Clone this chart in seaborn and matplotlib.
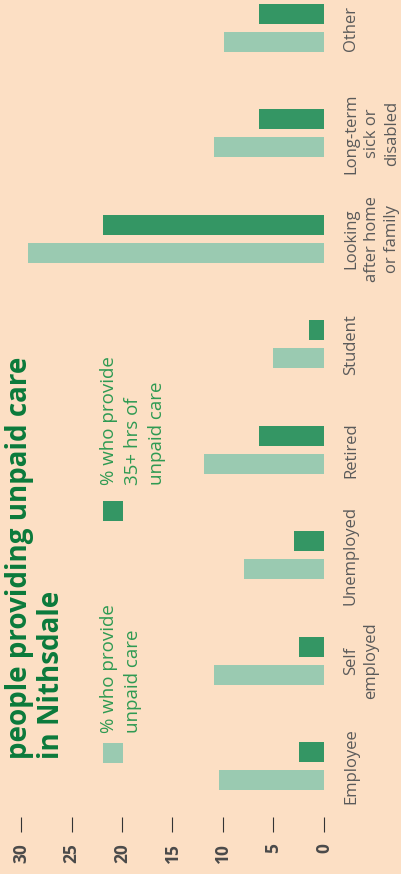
import pandas as pd
import matplotlib.pyplot as plt
import matplotlib.transforms as mtransforms
from matplotlib.patches import Rectangle
import seaborn as sns

# values (percent)
categories = ["Employee", "Self\nemployed", "Unemployed", "Retired", "Student",
              "Looking\nafter home\nor family", "Long-term\nsick or\ndisabled", "Other"]
unpaid_care = [10.4, 10.9, 7.9, 11.9, 5.0, 29.3, 10.9, 9.9]
unpaid_care_35 = [2.5, 2.5, 3.0, 6.4, 1.5, 21.9, 6.4, 6.4]
series_names = ["% who provide\nunpaid care", "% who provide\n35+ hrs of\nunpaid care"]
value_ticks = [0, 5, 10, 15, 20, 25, 30]

BG = "#FCDFC4"
LIGHT = "#9ACAB1"
DARK = "#349664"
TITLE_C = "#0B7A3B"
LEGEND_C = "#2E9A52"
LABEL_C = "#5A5A5A"

sns.set_theme(style="white")
plt.rcParams["font.family"] = ["Open Sans", "DejaVu Sans"]

df = pd.DataFrame({
    "category": categories * 2,
    "value": unpaid_care + unpaid_care_35,
    "series": [series_names[0]] * len(categories) + [series_names[1]] * len(categories),
})

W, H = 402, 874
fig = plt.figure(figsize=(W / 100, H / 100), dpi=100, facecolor=BG)
ax = fig.add_axes([21 / W, 57 / H, 303 / W, 817 / H], facecolor=BG)

# categories listed top to bottom: Other ... Employee
order = categories[::-1]
sns.barplot(data=df, y="category", x="value", hue="series", order=order,
            hue_order=[series_names[1], series_names[0]],
            palette={series_names[0]: LIGHT, series_names[1]: DARK},
            width=0.531, gap=0.286, saturation=1, linewidth=0,
            legend=False, ax=ax, orient="h")

ax.set_xlim(30, 0)
ax.set_ylim(7.484, -0.266)
for s in ax.spines.values():
    s.set_visible(False)
ax.set_ylabel("")
ax.set_xlabel("")
ax.set_yticks([])
ax.set_xticks(value_ticks)
ax.set_xticklabels([str(v) for v in value_ticks], rotation=90,
                   fontweight="bold", fontsize=12.5, color="#4A4A4A")
ax.tick_params(axis="x", bottom=True, length=10.8, width=0.8, color="#333333", pad=8)

# category labels, rotated, to the right of the bars
trans = mtransforms.blended_transform_factory(ax.transAxes, ax.transData)
for i, lab in enumerate(order):
    ax.text(1 + 19 / 303, i, lab, transform=trans, rotation=90, ha="left", va="center",
            multialignment="center", fontsize=12, color=LABEL_C, linespacing=1.38)

# title
fig.text(5 / W, 1 - 759 / H, "people providing unpaid care\nin Nithsdale", rotation=90,
         ha="left", va="bottom", fontsize=20, fontweight="bold", color=TITLE_C,
         linespacing=1.15)

# legend
fig.add_artist(Rectangle((103 / W, 1 - 763 / H), 20 / W, 20 / H,
                         transform=fig.transFigure, color=LIGHT, lw=0))
fig.add_artist(Rectangle((103 / W, 1 - 521 / H), 20 / W, 20 / H,
                         transform=fig.transFigure, color=DARK, lw=0))
fig.text(100 / W, 1 - 733 / H, series_names[0], rotation=90, ha="left", va="bottom",
         fontsize=13.5, color=LEGEND_C, linespacing=1.42)
fig.text(100 / W, 1 - 485 / H, series_names[1], rotation=90, ha="left", va="bottom",
         fontsize=13.5, color=LEGEND_C, linespacing=1.42)

fig.savefig("out.png", dpi=100, facecolor=BG)
